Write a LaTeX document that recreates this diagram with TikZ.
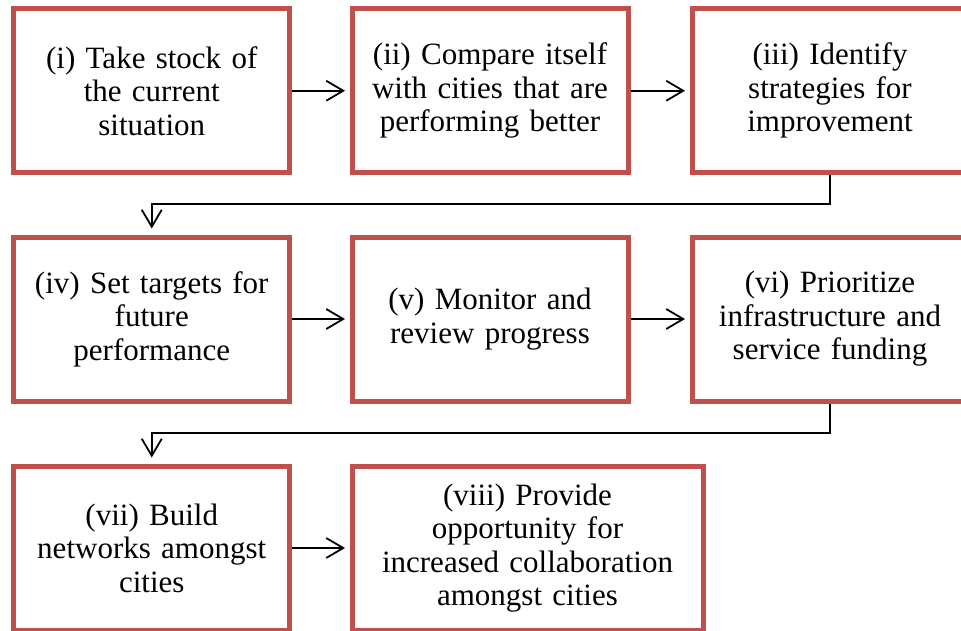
\documentclass[tikz,border=0pt]{standalone}
\usepackage{fontspec}
\setmainfont{Liberation Serif}
\usetikzlibrary{arrows.meta}
\definecolor{boxred}{RGB}{192,80,77}
\tikzset{
  stepbox/.style={draw=boxred, line width=5pt, fill=white, minimum height=164pt,
    align=center, inner sep=0pt, font=\fontsize{31}{33.5}\selectfont},
  narrowbox/.style={stepbox, minimum width=276pt, text width=270pt},
  widebox/.style={stepbox, minimum width=351pt, text width=345pt},
  link/.style={line width=1.8pt, -{Straight Barb[length=17pt,width=20pt,line width=1.8pt]}, shorten >=4.5pt}
}
\begin{document}
\begin{tikzpicture}[x=1pt,y=-1pt]
\useasboundingbox (0,0) rectangle (961,630);
\node[narrowbox] (b1) at (151.75,90.75) {(i) Take stock of\\the current\\situation};
\node[narrowbox] (b2) at (490,90.75) {(ii) Compare itself\\with cities that are\\performing better};
\node[narrowbox] (b3) at (830,90.75) {(iii) Identify\\strategies for\\improvement};
\node[narrowbox] (b4) at (151.75,319) {(iv) Set targets for\\future\\performance};
\node[narrowbox] (b5) at (490,319) {(v) Monitor and\\review progress};
\node[narrowbox] (b6) at (830,319) {(vi) Prioritize\\infrastructure and\\service funding};
\node[narrowbox] (b7) at (151.75,548) {(vii) Build\\networks amongst\\cities};
\node[widebox] (b8) at (527.5,548) {(viii) Provide\\opportunity for\\increased collaboration\\amongst cities};
\coordinate (k1) at (830,204);
\coordinate (k2) at (830,432.7);
\draw[link] (b1) -- (b2);
\draw[link] (b2) -- (b3);
\draw[link] (b4) -- (b5);
\draw[link] (b5) -- (b6);
\draw[link] (b7) -- (b8);
\draw[link, shorten >=6pt] (b3.south) -- (k1) -| (b4.north);
\draw[link, shorten >=6pt] (b6.south) -- (k2) -| (b7.north);
\end{tikzpicture}
\end{document}
